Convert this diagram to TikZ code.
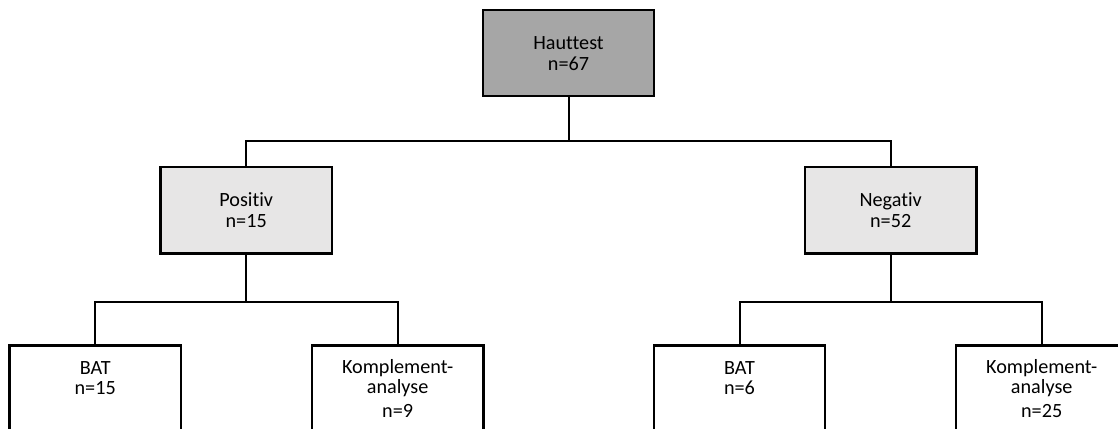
\documentclass[tikz,border=0pt]{standalone}
\usepackage{fontspec}
\setmainfont{Carlito}[Ligatures=NoCommon]
\usetikzlibrary{positioning}
\definecolor{darkgrey}{HTML}{A6A6A6}
\definecolor{lightgrey}{HTML}{E7E6E6}
\begin{document}
\begin{tikzpicture}[x=0.5pt,y=-0.5pt,
		box/.style={draw,line width=1.1pt,minimum width=85.8pt,minimum height=43.1pt,align=center,font=\fontsize{10.1}{10.4}\selectfont},
		rootbox/.style={box,fill=darkgrey},
		groupbox/.style={box,fill=lightgrey},
		leafbox/.style={box,fill=white},
		link/.style={line width=1pt}]
		\useasboundingbox (0,0) rectangle (1118,428);
		\node[rootbox] (haut) at (568.5,53.2) {Hauttest\\n=67};
		\node[groupbox] (pos) at (246.2,210.3) {Positiv\\n=15};
		\node[groupbox] (neg) at (890.7,210.3) {Negativ\\n=52};
		\node[leafbox] (posbat) at (95.2,388.5) {BAT\\n=15\\\vphantom{0}};
		\node[leafbox] (poskomp) at (397.6,388.5) {Komplement-\\analyse\\[1.6pt]n=9};
		\node[leafbox] (negbat) at (739.5,388.5) {BAT\\n=6\\\vphantom{0}};
		\node[leafbox] (negkomp) at (1041.7,388.5) {Komplement-\\analyse\\[1.6pt]n=25};
		\coordinate (hautsplit) at (568.5,141);
		\coordinate (possplit) at (246.2,301.5);
		\coordinate (negsplit) at (890.7,301.5);
		\draw[link] (haut.south) -- (hautsplit);
		\draw[link] (hautsplit) -| (pos.north);
		\draw[link] (hautsplit) -| (neg.north);
		\draw[link] (pos.south) -- (possplit);
		\draw[link] (possplit) -| (posbat.north);
		\draw[link] (possplit) -| (poskomp.north);
		\draw[link] (neg.south) -- (negsplit);
		\draw[link] (negsplit) -| (negbat.north);
		\draw[link] (negsplit) -| (negkomp.north);
	\end{tikzpicture}
\end{document}
